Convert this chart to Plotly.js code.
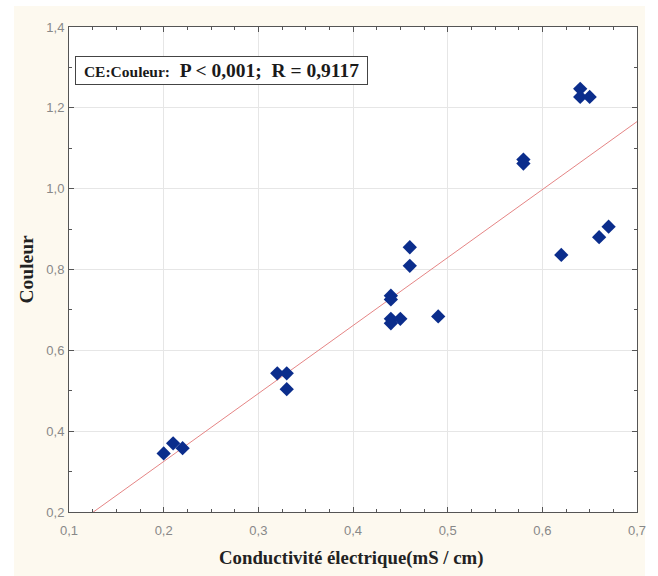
<!DOCTYPE html>
<html><head><meta charset="utf-8">
<script src="https://cdn.plot.ly/plotly-3.0.1.min.js"></script>
<style>html,body{margin:0;padding:0;background:#fff}#chart{width:658px;height:576px}</style>
</head><body><div id="chart"></div>
<script>
// Data
var conductivite = [0.20,0.21,0.22,0.32,0.33,0.33,0.44,0.44,0.44,0.44,0.45,0.46,0.46,0.49,0.58,0.58,0.62,0.64,0.64,0.65,0.66,0.67];
var couleur      = [0.345,0.370,0.358,0.543,0.543,0.504,0.735,0.726,0.678,0.667,0.678,0.855,0.809,0.684,1.072,1.062,0.836,1.247,1.227,1.227,0.880,0.906];
// Fitted line: y = a + b*x
var fitIntercept = -0.0115;
var fitSlope = 1.682;
var fitX = [0.1, 0.7];
var fitY = fitX.map(function(v){return fitIntercept + fitSlope*v;});
var xTicks = [0.1,0.2,0.3,0.4,0.5,0.6,0.7];
var yTicks = [0.2,0.4,0.6,0.8,1.0,1.2,1.4];
var statText = ["CE:Couleur:", "P < 0,001;", "R = 0,9117"];

var fmt = function(v){return v.toFixed(1).replace('.', ',');};

var traces = [
  {x: fitX, y: fitY, mode: 'lines', line: {color: '#e58585', width: 1}, hoverinfo: 'skip', showlegend: false},
  {x: conductivite, y: couleur, mode: 'markers', type: 'scatter',
   marker: {symbol: 'diamond', size: 11, color: '#0b2d8c', line: {width: 0}}, showlegend: false}
];

var axisCommon = {
  showline: true, linecolor: '#555', linewidth: 1, mirror: 'allticks',
  ticks: 'inside', ticklen: 5, tickcolor: '#555', tickwidth: 1,
  showgrid: true, gridcolor: '#e6e6e6', gridwidth: 1, zeroline: false,
  tickfont: {family: 'Arial, Liberation Sans, sans-serif', size: 13, color: '#888'}
};

var layout = {
  width: 658, height: 576,
  margin: {l: 69, r: 21, t: 27, b: 64},
  paper_bgcolor: '#ffffff', plot_bgcolor: '#ffffff',
  showlegend: false,
  separators: ', ',
  xaxis: Object.assign({}, axisCommon, {
    range: [0.1, 0.7], tickvals: xTicks, ticktext: xTicks.map(fmt), ticklabelstandoff: 6,
    minor: {dtick: 0.025, tick0: 0.1, ticks: 'inside', ticklen: 3, tickcolor: '#555', showgrid: false}
  }),
  yaxis: Object.assign({}, axisCommon, {
    range: [0.2, 1.4], tickvals: yTicks, ticktext: yTicks.map(fmt), ticklabelstandoff: 1,
    minor: {dtick: 0.1, tick0: 0.2, ticks: 'inside', ticklen: 3, tickcolor: '#555', showgrid: false}
  }),
  shapes: [
    {type: 'rect', xref: 'paper', yref: 'paper', x0: -0.0968, x1: 1.014, y0: -0.2, y1: 1.0433,
     fillcolor: '#fdf9ef', line: {width: 0}, layer: 'below'},
    {type: 'rect', xref: 'x', yref: 'y', x0: 0.1, x1: 0.7, y0: 0.2, y1: 1.4,
     fillcolor: '#ffffff', line: {width: 0}, layer: 'below'}
  ],
  annotations: [
    {xref: 'paper', yref: 'paper', x: 0.0106, y: 0.9402, xanchor: 'left', yanchor: 'top',
     text: '&nbsp;<span style="font-size:15.5px">' + statText[0] + '</span>&nbsp;&nbsp;' + statText[1].replace('<','&lt;') + '&nbsp;&nbsp;' + statText[2] + '&nbsp;',
     showarrow: false, align: 'left',
     font: {family: 'Liberation Serif, Times New Roman, serif', size: 19.5, color: '#1a1a1a', weight: 'bold'},
     bgcolor: '#ffffff', bordercolor: '#444', borderwidth: 1, borderpad: 3},
    {xref: 'paper', yref: 'paper', x: 0.4965, y: -0.0948, xanchor: 'center', yanchor: 'middle',
     text: 'Conductivité électrique(mS / cm)', showarrow: false,
     font: {family: 'Liberation Serif, Times New Roman, serif', size: 18.8, color: '#222', weight: 'bold'}},
    {xref: 'paper', yref: 'paper', x: -0.0757, y: 0.5, xanchor: 'center', yanchor: 'middle', textangle: -90,
     text: 'Couleur', showarrow: false,
     font: {family: 'Liberation Serif, Times New Roman, serif', size: 19.5, color: '#222', weight: 'bold'}}
  ]
};

Plotly.newPlot('chart', traces, layout, {displayModeBar: false, staticPlot: true});
</script>
</body></html>
